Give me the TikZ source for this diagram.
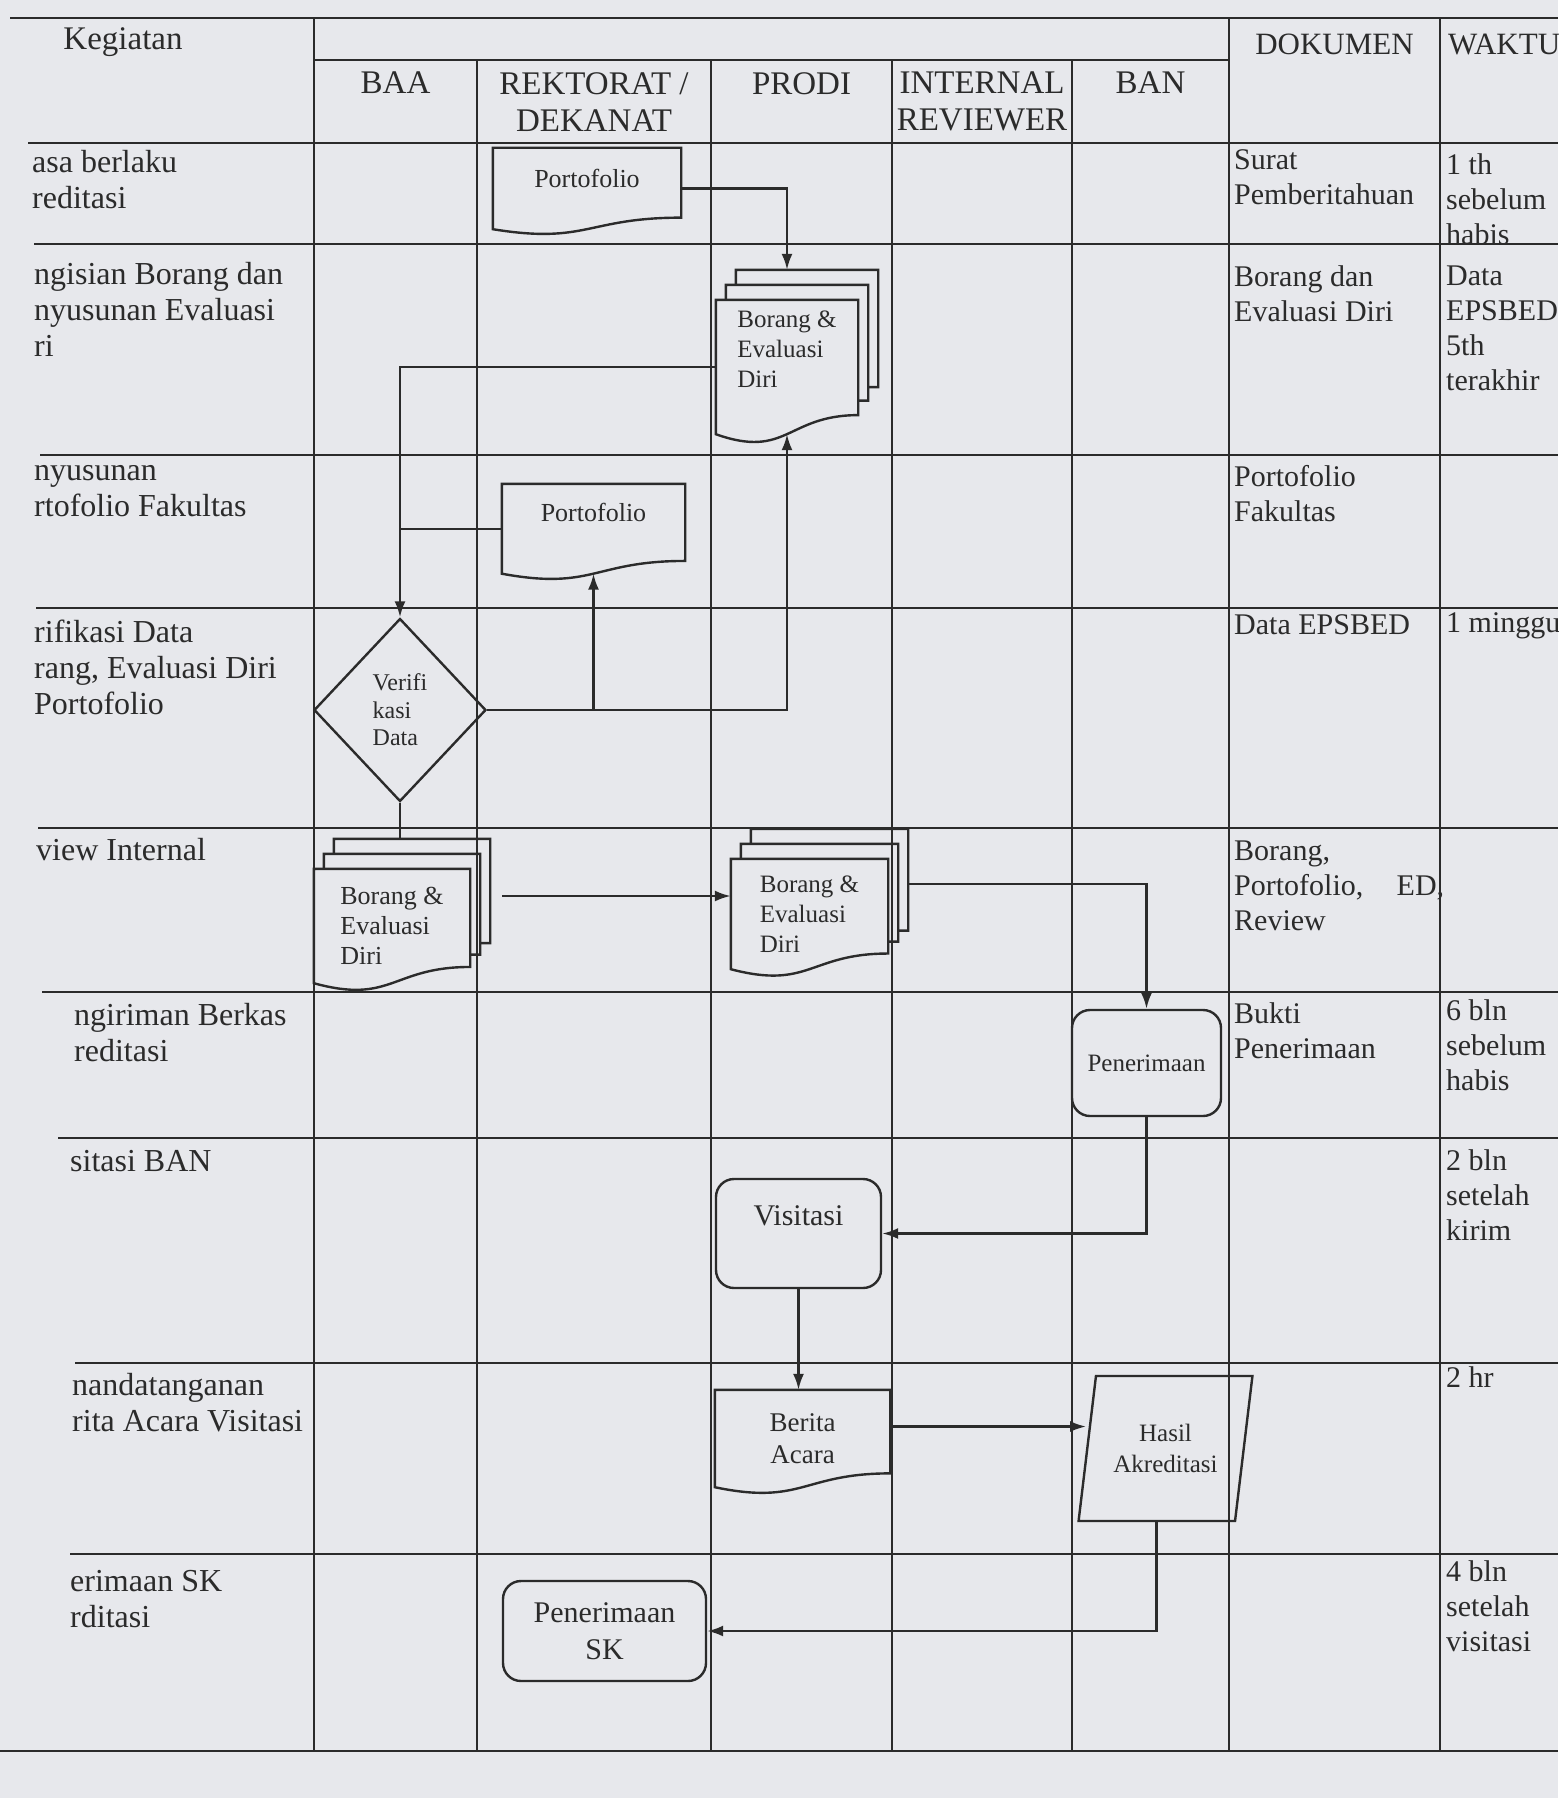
\documentclass[tikz,border=0pt]{standalone}
\usepackage{fontspec}
\setmainfont{Liberation Serif}
\usepackage{tikz}
\usetikzlibrary{arrows.meta,calc,shapes.geometric}
\definecolor{paper}{HTML}{E7E8EC}
\definecolor{ink}{HTML}{2B2B2B}

\newcommand{\docline}[1]{%
  \draw[link] (#1.north west) -- (#1.north east)
    -- ($(#1.north east)!0.858!(#1.south east)$)
    .. controls ($(#1.north)!0.858!(#1.south)$) and ($(#1.north)!1.188!(#1.south)$)
    .. (#1.south west) -- cycle;}
\newcommand{\stackline}[1]{%
  \draw[link] ($(#1.north west)+(10,0)$) -- ++(0,-15) -- ($(#1.north east)+(10,-15)$)
    -- ($(#1.north east)!0.75!(#1.south east)+(10,0)$) -- ($(#1.north east)!0.75!(#1.south east)$);
  \draw[link] ($(#1.north west)+(20,-15)$) -- ++(0,-15) -- ($(#1.north east)+(20,-30)$)
    -- ($(#1.north east)!0.65!(#1.south east)+(20,0)$) -- ($(#1.north east)!0.65!(#1.south east)+(10,0)$);
  \docline{#1}}

\begin{document}
\begin{tikzpicture}[x=1pt,y=-1pt,>={Latex[length=16pt,width=11pt]},
    grid/.style={draw=ink,line width=2pt},
    link/.style={draw=ink,line width=2.4pt},
    lanehead/.style={anchor=north,align=center,inner sep=0pt,text=ink,font=\fontsize{33}{37}\selectfont},
    rowlabel/.style={anchor=north west,align=left,inner sep=0pt,text=ink,font=\fontsize{32}{36}\selectfont},
    cell/.style={anchor=north west,align=left,inner sep=0pt,text=ink,font=\fontsize{30}{35}\selectfont},
    doc/.style={inner sep=0pt,text=ink,font=\fontsize{26}{30}\selectfont},
    stack/.style={inner sep=0pt,align=left,text=ink,font=\fontsize{25}{30}\selectfont},
    proc/.style={draw=ink,line width=2.4pt,rounded corners=18pt,inner sep=0pt,align=center,text=ink},
    decide/.style={diamond,draw=ink,line width=2.4pt,inner sep=0pt,align=left,text=ink,
      font=\fontsize{24}{27.5}\selectfont},
    dataio/.style={trapezium,trapezium left angle=75,trapezium right angle=105,trapezium stretches=true,
      draw=ink,line width=2.4pt,inner sep=0pt,align=center,text=ink,font=\fontsize{25}{31}\selectfont}]
  \fill[paper] (0,0) rectangle (1558,1798);
  \useasboundingbox (0,0) rectangle (1558,1798);

  % table
  \draw[grid] (10,18) -- (1558,18);
  \draw[grid] (314,60) -- (1229,60);
  \foreach \y/\xs in {143/28,244/34,455/40,608/36,828/38,992/42,1138/58,1363/75,1554/70,1751/0}
    \draw[grid] (\xs,\y) -- (1558,\y);
  \foreach \x in {314,1229,1440} \draw[grid] (\x,18) -- (\x,1751);
  \foreach \x in {477,711,892,1072} \draw[grid] (\x,60) -- (\x,1751);

  \node[lanehead] (keg) at (123,27) {Kegiatan};
  \node[lanehead] (baa) at (395.5,72) {BAA};
  \node[lanehead] (rek) at (594,72) {REKTORAT /\\DEKANAT};
  \node[lanehead] (pro) at (801.5,72) {PRODI};
  \node[lanehead] (irv) at (982,72) {INTERNAL\\REVIEWER};
  \node[lanehead] (ban) at (1150.5,72) {BAN};
  \node[lanehead,font=\fontsize{31}{35}\selectfont] (dok) at (1334.5,34) {DOKUMEN};
  \node[lanehead,anchor=north west,font=\fontsize{31}{35}\selectfont] (wkt) at (1448,34) {WAKTU};

  \node[rowlabel] (k1) at (32,150) {asa berlaku\\reditasi};
  \node[rowlabel] (k2) at (34,262) {ngisian Borang dan\\nyusunan Evaluasi\\ri};
  \node[rowlabel] (k3) at (34,465) {nyusunan\\rtofolio Fakultas};
  \node[rowlabel] (k4) at (34,620) {rifikasi Data\\rang, Evaluasi Diri\\Portofolio};
  \node[rowlabel] (k5) at (36,838) {view Internal};
  \node[rowlabel] (k6) at (74,1003) {ngiriman Berkas\\reditasi};
  \node[rowlabel] (k7) at (70,1150) {sitasi BAN};
  \node[rowlabel] (k8) at (72,1373) {nandatanganan\\rita Acara Visitasi};
  \node[rowlabel] (k9) at (70,1570) {erimaan SK\\rditasi};

  \node[cell] (d1) at (1234,149) {Surat\\Pemberitahuan};
  \node[cell] (d2) at (1234,265) {Borang dan\\Evaluasi Diri};
  \node[cell] (d3) at (1234,465) {Portofolio\\Fakultas};
  \node[cell] (d4) at (1234,614) {Data EPSBED};
  \node[cell] (d5) at (1234,841) {Borang,\\\makebox[210pt]{Portofolio,\hfill ED,}\\Review};
  \node[cell] (d6) at (1234,1002) {Bukti\\Penerimaan};

  \node[cell] (w1) at (1446,153) {1 th\\sebelum\\habis};
  \node[cell] (w2) at (1446,266) {Data\\EPSBED\\5th\\terakhir};
  \node[cell] (w4) at (1446,612) {1 minggu};
  \node[cell] (w6) at (1446,999) {6 bln\\sebelum\\habis};
  \node[cell] (w7) at (1446,1149) {2 bln\\setelah\\kirim};
  \node[cell] (w8) at (1446,1366) {2 hr};
  \node[cell] (w9) at (1446,1560) {4 bln\\setelah\\visitasi};

  % flow
  \node[doc,minimum width=188pt,minimum height=81pt,text depth=21pt] (port1) at (587,188.5) {Portofolio};
  \docline{port1}
  \node[stack,minimum width=142pt,minimum height=134pt,text depth=36pt] (bed1) at (787,367) {Borang \&\\Evaluasi\\Diri};
  \stackline{bed1}
  \node[doc,minimum width=183pt,minimum height=89.5pt,text depth=32pt] (port2) at (593.5,528.75) {Portofolio};
  \docline{port2}
  \node[decide,minimum width=172pt,minimum height=183pt] (verif) at (400,710) {Verifi\\kasi\\Data};
  \node[stack,font=\fontsize{26}{30}\selectfont,minimum width=156pt,minimum height=114pt] (bed2) at (392,926) {Borang \&\\Evaluasi\\Diri};
  \stackline{bed2}
  \node[stack,minimum width=157pt,minimum height=110pt] (bed3) at (809.5,914) {Borang \&\\Evaluasi\\Diri};
  \stackline{bed3}
  \node[proc,minimum width=149pt,minimum height=106pt,font=\fontsize{25}{30}\selectfont] (pen) at (1146.5,1063) {Penerimaan};
  \node[proc,minimum width=165pt,minimum height=109pt,text depth=36pt,font=\fontsize{30}{35}\selectfont] (vis) at (798.5,1233.5) {Visitasi};
  \node[doc,align=center,minimum width=175pt,minimum height=97pt,font=\fontsize{27}{32}\selectfont] (ber) at (802.5,1438.5) {Berita\\Acara};
  \docline{ber}
  \node[dataio,minimum width=174pt,minimum height=145pt] (has) at (1165.5,1448.5) {Hasil\\Akreditasi};
  \node[proc,minimum width=203pt,minimum height=100pt,font=\fontsize{30}{37}\selectfont] (pensk) at (604.5,1631) {Penerimaan\\SK};

  \draw[link,->] (port1.east) -| (bed1.north) [shorten >=30pt];
  \draw[link,->] (bed1.west) -| (verif.north);
  \draw[link] (port2.west) -- (port2.west -| verif.north);
  \draw[link,->] (verif.east) -| (bed1.south);
  \draw[link,->] (verif.east -| port2.south) -- (port2.south);
  \draw[link,shorten >=30pt] (verif.south) -- (verif.south |- bed2.north);
  \draw[link,->,shorten <=32pt] ([yshift=30pt]bed2.east) -- ([yshift=30pt]bed2.east -| bed3.west);
  \draw[link,->,shorten <=20pt] ([yshift=30pt]bed3.east) -| (pen.north);
  \draw[link,->] (pen.south) |- (vis.east);
  \draw[link,->] (vis.south) -- (vis.south |- ber.north);
  \draw[link,->] ([yshift=12pt]ber.east) -- ([yshift=12pt]ber.east -| has.west);
  \draw[link,->] (has.bottom side) |- (pensk.east);
\end{tikzpicture}
\end{document}
